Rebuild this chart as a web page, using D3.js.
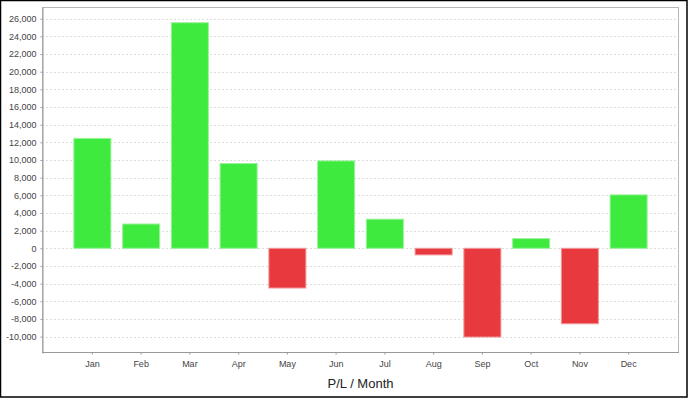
<!DOCTYPE html>
<html>
<head>
<meta charset="utf-8">
<script src="https://cdn.jsdelivr.net/npm/d3@7"></script>
<style>
  html, body { margin: 0; padding: 0; background: #fff; }
  svg { display: block; font-family: 'Liberation Sans', Arial, sans-serif; }
</style>
</head>
<body>
<div id="chart"></div>
<script>
/* P/L per month, bar chart with positive/negative colouring */
const months = ['Jan', 'Feb', 'Mar', 'Apr', 'May', 'Jun', 'Jul', 'Aug', 'Sep', 'Oct', 'Nov', 'Dec'];
const profit = [12450, 2750, 25550, 9600, -4500, 9900, 3300, -750, -10050, 1100, -8550, 6050];
const yTicks = d3.range(-10000, 26001, 2000);
const xTitle = 'P/L / Month';

const W = 688, H = 398;
const m = { t: 7, r: 9, b: 45, l: 42 };
const w = W - m.l - m.r, h = H - m.t - m.b;

const svg = d3.select('#chart').append('svg')
  .attr('width', W).attr('height', H);

/* outer frame */
svg.append('rect')
  .attr('x', 0.5).attr('y', 0.5).attr('width', W - 1.5).attr('height', H - 1.5)
  .attr('fill', '#fff').attr('stroke', '#000').attr('stroke-width', 1.5);

const g = svg.append('g').attr('transform', `translate(${m.l},${m.t})`);

const y = d3.scaleLinear().domain([-11860, 27330]).range([h, 0]);
const x = d3.scaleBand().domain(months)
  .range([26, w - 26]).paddingInner(0.24).paddingOuter(0.12);

const fmt = d => d3.format(',')(d).replace('\u2212', '-');

/* grid */
g.append('g')
  .selectAll('line').data(yTicks).join('line')
  .attr('x1', 0).attr('x2', w)
  .attr('y1', d => Math.round(y(d)) + 0.5).attr('y2', d => Math.round(y(d)) + 0.5)
  .attr('stroke', '#dcdcdc').attr('stroke-width', 1).attr('stroke-dasharray', '2,2');

/* bars */
g.selectAll('.bar').data(months).join('rect')
  .attr('class', 'bar')
  .attr('x', d => x(d))
  .attr('width', x.bandwidth())
  .attr('y', (d, i) => y(Math.max(0, profit[i])))
  .attr('height', (d, i) => Math.abs(y(profit[i]) - y(0)))
  .attr('fill', (d, i) => profit[i] >= 0 ? '#3eea3e' : '#e8393e')
  .attr('stroke', (d, i) => profit[i] >= 0 ? '#9cf29c' : '#f09a9c')
  .attr('stroke-width', 1);

/* plot outline */
g.append('rect')
  .attr('x', 0.5).attr('y', 0.5).attr('width', w - 1).attr('height', h - 1)
  .attr('fill', 'none').attr('stroke', '#b8b8b8').attr('stroke-width', 1);

/* axes */
const yAxis = g.append('g').attr('transform', 'translate(0.5,0)')
  .call(d3.axisLeft(y).tickValues(yTicks).tickSize(2).tickSizeOuter(0).tickPadding(4).tickFormat(fmt));
const xAxis = g.append('g').attr('transform', `translate(0,${h - 0.5})`)
  .call(d3.axisBottom(x).tickSize(2).tickSizeOuter(0).tickPadding(6));
xAxis.select('.domain').remove();
xAxis.append('line').attr('class', 'domain')
  .attr('x1', 0).attr('x2', w).attr('y1', 0).attr('y2', 0);

[yAxis, xAxis].forEach(a => {
  a.select('.domain').attr('stroke', '#999');
  a.selectAll('.tick line').attr('stroke', '#999');
  a.selectAll('.tick text').attr('fill', '#444').attr('font-size', 9)
    .attr('font-family', "'Liberation Sans', Arial, sans-serif");
});

/* axis title */
svg.append('text')
  .attr('x', m.l + w / 2).attr('y', 388)
  .attr('text-anchor', 'middle')
  .attr('font-size', 13).attr('fill', '#222')
  .text(xTitle);
</script>
</body>
</html>
